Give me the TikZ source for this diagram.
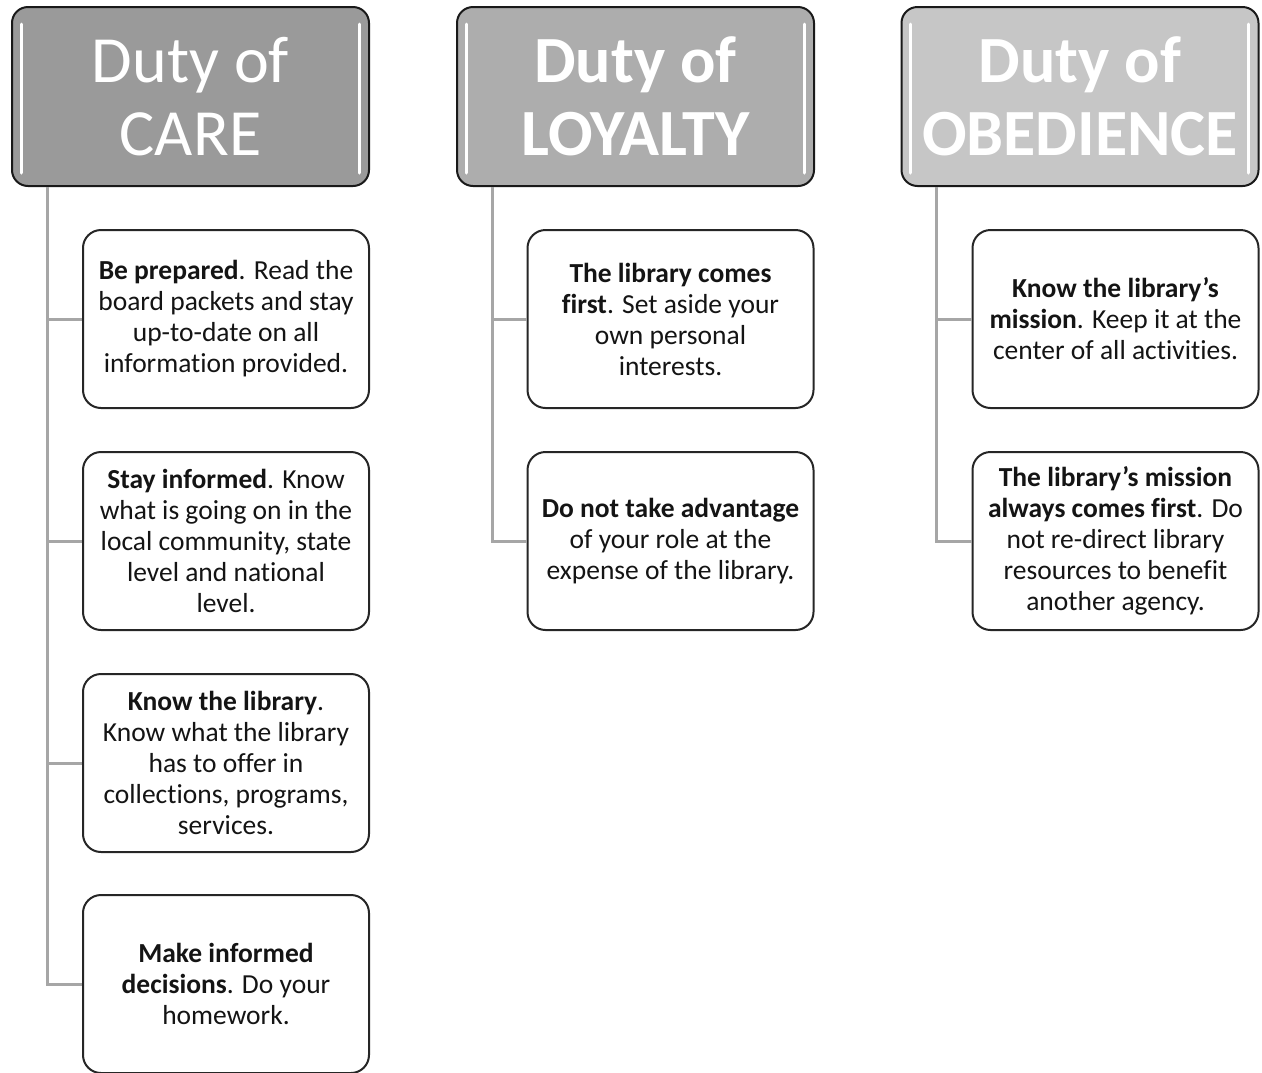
\documentclass[tikz,border=0pt]{standalone}
\usepackage{fontspec}
\setmainfont[Ligatures=NoCommon]{Carlito}
\definecolor{hA}{HTML}{9A9A9A}
\definecolor{hB}{HTML}{ADADAD}
\definecolor{hC}{HTML}{C6C6C6}
\definecolor{connc}{HTML}{A6A6A6}
\definecolor{txt}{HTML}{141414}
\begin{document}
\begin{tikzpicture}[x=1pt,y=-1pt,
  header/.style={draw=black!90, line width=2pt, rounded corners=16pt,
    minimum width=357pt, minimum height=179pt, inner sep=0pt,
    align=center, text=white, font=\fontsize{66}{73}\selectfont},
  item/.style={draw=black!85, line width=2pt, rounded corners=18pt, fill=white,
    minimum width=286pt, minimum height=178pt, inner sep=0pt,
    align=center, text=txt, font=\fontsize{27.5}{31}\selectfont},
  conn/.style={draw=connc, line width=3pt},
  shine/.style={draw=white, line width=3pt, line cap=round}]
\useasboundingbox (0,0) rectangle (1262,1072);
% headers
\node[header, fill=hA] (h1) at (190.5,96.5) {Duty of\\CARE};
\node[header, fill=hB, font=\fontsize{66}{73}\selectfont\bfseries] (h2) at (635.5,96.5) {Duty of\\LOYALTY};
\node[header, fill=hC, font=\fontsize{66}{73}\selectfont\bfseries] (h3) at (1080,96.5) {Duty of\\OBEDIENCE};
% highlights
\foreach \h in {h1,h2,h3}{
  \draw[shine] ([xshift=10pt,yshift=-18pt]\h.north west) -- ([xshift=10pt,yshift=14pt]\h.south west);
  \draw[shine] ([xshift=-11pt,yshift=-18pt]\h.north east) -- ([xshift=-11pt,yshift=14pt]\h.south east);
}
% column 1
\node[item] (a1) at (226,319) {\textbf{Be prepared}. Read the\\board packets and stay\\up-to-date on all\\information provided.};
\node[item] (a2) at (226,541) {\textbf{Stay informed}. Know\\what is going on in the\\local community, state\\level and national\\level.};
\node[item] (a3) at (226,763) {\textbf{Know the library}.\\Know what the library\\has to offer in\\collections, programs,\\services.};
\node[item] (a4) at (226,984) {\textbf{Make informed}\\\textbf{decisions}. Do your\\homework.};
% column 2
\node[item] (b1) at (670.5,319) {\textbf{The library comes}\\\textbf{first}. Set aside your\\own personal\\interests.};
\node[item] (b2) at (670.5,541) {\textbf{Do not take advantage}\\of your role at the\\expense of the library.};
% column 3
\node[item] (c1) at (1115.5,319) {\textbf{Know the library’s}\\\textbf{mission}. Keep it at the\\center of all activities.};
\node[item] (c2) at (1115.5,541) {\textbf{The library’s mission}\\\textbf{always comes first}. Do\\not re-direct library\\resources to benefit\\another agency.};
% connectors
\foreach \n in {a1,a2,a3,a4}{
  \draw[conn] ([xshift=36pt]h1.south west) |- (\n.west);
}
\foreach \n in {b1,b2}{
  \draw[conn] ([xshift=36pt]h2.south west) |- (\n.west);
}
\foreach \n in {c1,c2}{
  \draw[conn] ([xshift=36pt]h3.south west) |- (\n.west);
}
\end{tikzpicture}
\end{document}
